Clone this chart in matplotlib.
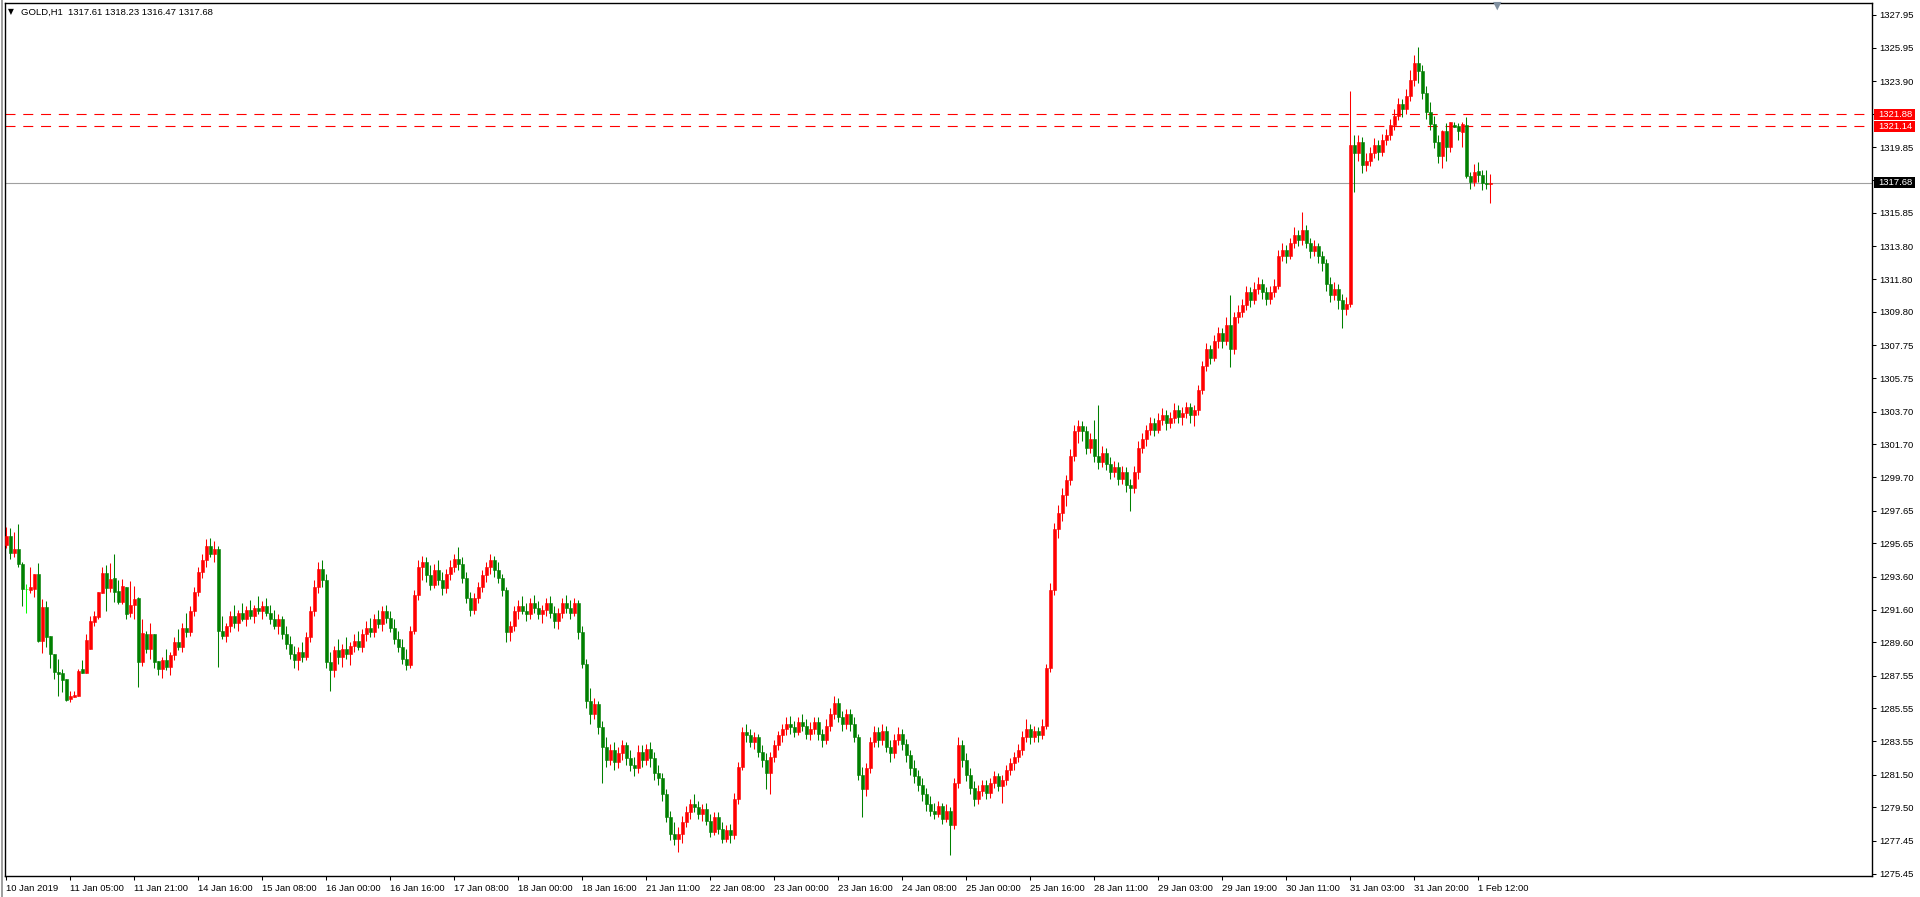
import matplotlib
matplotlib.use("Agg")
import matplotlib.pyplot as plt
from matplotlib.patches import Rectangle
from matplotlib.transforms import IdentityTransform

# === DATOS: velas H1 de GOLD, 10 por linea ===
opens = [
    1295.55, 1296.10, 1295.04, 1295.30, 1294.38, 1292.86, 1292.79, 1292.86, 1293.77, 1289.68,
    1291.78, 1289.98, 1288.90, 1287.80, 1287.70, 1287.35, 1286.13, 1286.27, 1286.33, 1287.97,
    1287.74, 1289.17, 1290.86, 1291.17, 1292.63, 1293.85, 1292.94, 1293.51, 1292.73, 1292.08,
    1293.00, 1291.37, 1291.88, 1292.28, 1288.41, 1290.11, 1289.19, 1290.11, 1288.45,
    1287.95, 1288.5, 1288.1, 1288.8, 1289.6, 1289.3, 1290.5, 1290.2, 1291.5, 1292.7,
    1293.9, 1294.6, 1295.5, 1295.0, 1295.3, 1290.3, 1290.0, 1290.6, 1291.2, 1290.8,
    1291.4, 1291.0, 1291.6, 1291.2, 1291.7, 1291.5, 1291.8, 1291.4, 1291.0, 1290.6,
    1291.0, 1290.1, 1289.5, 1288.9, 1288.5, 1289.0, 1288.7, 1289.9, 1291.5, 1293.0,
    1294.1, 1293.4, 1288.4, 1287.9, 1289.1, 1288.7, 1289.2, 1288.9, 1289.4, 1289.7,
    1289.3, 1290.1, 1290.5, 1290.2, 1291.0, 1290.7, 1291.5, 1291.1, 1290.5, 1289.8,
    1289.3, 1288.6, 1288.2, 1290.3, 1292.5, 1294.2, 1294.5, 1293.7, 1293.1, 1294.0,
    1293.4, 1292.9, 1293.8, 1294.2, 1294.7, 1294.4, 1293.5, 1292.3, 1291.6, 1292.3,
    1293.0, 1293.7, 1294.2, 1294.6, 1294.0, 1293.5, 1292.8, 1290.2, 1290.6, 1291.5,
    1291.8, 1291.5, 1291.3, 1292.0, 1291.7, 1291.3, 1291.6, 1292.0, 1291.4, 1290.9,
    1291.4, 1292.0, 1291.7, 1291.4, 1292.0, 1290.2, 1288.3, 1286.0, 1285.2, 1285.8,
    1284.4, 1283.2, 1282.4, 1283.0, 1282.3, 1282.8, 1283.3, 1282.5, 1282.1, 1281.9,
    1282.9, 1282.4, 1283.1, 1282.5, 1281.6, 1281.3, 1280.3, 1278.9, 1277.9, 1277.6,
    1277.9, 1278.6, 1279.2, 1279.7, 1279.5, 1279.1, 1279.4, 1278.7, 1278.0, 1278.9,
    1278.2, 1277.6, 1278.1, 1277.8, 1280.0, 1282.0, 1284.1, 1283.9, 1283.5, 1283.8,
    1282.9, 1282.4, 1281.6, 1282.6, 1283.3, 1283.9, 1284.3, 1284.6, 1284.4, 1284.1,
    1284.7, 1284.5, 1284.0, 1284.3, 1284.7, 1284.0, 1283.6, 1284.5, 1285.2, 1285.9,
    1285.0, 1284.6, 1285.2, 1284.6, 1283.8, 1281.5, 1280.6, 1281.9, 1283.5, 1284.1,
    1283.6, 1284.2, 1283.2, 1282.8, 1283.6, 1284.0, 1283.4, 1282.7, 1281.9, 1281.4,
    1280.9, 1280.3, 1279.7, 1279.3, 1279.1, 1279.6, 1278.8, 1279.3, 1278.4, 1281.0,
    1283.3, 1282.4, 1281.5, 1280.7, 1280.0, 1280.5, 1280.9, 1280.4, 1281.0, 1281.4,
    1280.8, 1281.2, 1281.8, 1282.2, 1282.6, 1283.0, 1283.8, 1284.3, 1283.8, 1284.2,
    1283.9, 1284.5, 1288.0, 1292.8, 1296.5, 1297.5, 1298.6, 1299.5, 1301.0, 1302.5,
    1302.8, 1302.5, 1301.5, 1302.0, 1301.0, 1300.6, 1301.2, 1300.5, 1300.0, 1300.3,
    1299.6, 1300.0, 1299.2, 1299.0, 1300.0, 1301.5, 1302.0, 1302.6, 1303.0, 1302.6,
    1303.2, 1303.5, 1303.0, 1303.3, 1303.8, 1303.4, 1303.6, 1304.0, 1303.5, 1303.8,
    1305.0, 1306.5, 1307.5, 1307.0, 1308.0, 1308.5, 1308.0, 1309.0, 1307.5, 1309.5,
    1309.8, 1310.2, 1311.0, 1310.5, 1311.2, 1311.5, 1311.0, 1310.6, 1311.0, 1311.4,
    1313.2, 1313.6, 1313.2, 1314.0, 1314.5, 1314.2, 1314.8, 1314.0, 1313.5, 1313.8,
    1313.2, 1312.8, 1311.5, 1310.8, 1311.2, 1310.5, 1310.0, 1310.3, 1320.0, 1319.5,
    1320.2, 1318.8, 1319.0, 1319.5, 1320.0, 1319.6, 1320.3, 1320.6, 1321.2, 1321.8,
    1322.5, 1322.2, 1323.0, 1324.0, 1325.0, 1324.5, 1323.2, 1322.0, 1321.3, 1320.2,
    1319.33, 1320.86, 1319.9, 1321.22, 1321.16, 1320.8, 1321.22, 1318.12, 1317.72, 1318.41,
    1318.17, 1317.7, 1317.61]
highs = [
    1296.67, 1296.57, 1296.36, 1296.83, 1294.53, 1293.16, 1294.18, 1293.77, 1294.47, 1292.24,
    1292.12, 1289.98, 1288.90, 1288.58, 1287.94, 1287.35, 1286.64, 1286.64, 1287.97, 1288.52,
    1290.11, 1291.21, 1291.51, 1292.69, 1294.18, 1294.32, 1294.47, 1295.00, 1293.41, 1293.45,
    1293.00, 1293.37, 1293.04, 1292.35, 1291.00, 1290.29, 1290.76, 1290.11, 1288.45,
    1288.7, 1289.2, 1289.0, 1289.9, 1290.4, 1290.8, 1291.4, 1291.8, 1293.0, 1294.2,
    1295.0, 1295.9, 1296.0, 1295.8, 1295.5, 1291.2, 1290.8, 1291.5, 1291.9, 1291.6,
    1292.0, 1291.8, 1292.2, 1291.9, 1292.4, 1292.1, 1292.3, 1291.9, 1291.6, 1291.3,
    1291.2, 1290.6, 1290.0, 1289.4, 1289.3, 1289.6, 1290.2, 1291.8, 1293.4, 1294.5,
    1294.6, 1293.8, 1289.0, 1289.4, 1289.8, 1289.5, 1289.9, 1289.6, 1290.1, 1290.3,
    1290.4, 1290.9, 1291.1, 1291.3, 1291.6, 1291.8, 1291.9, 1291.5, 1291.0, 1290.3,
    1289.8, 1289.2, 1290.6, 1292.8, 1294.6, 1294.9, 1294.8, 1294.3, 1294.4, 1294.6,
    1293.9, 1294.1, 1294.6, 1295.0, 1295.4, 1294.8, 1293.9, 1292.7, 1292.6, 1293.3,
    1294.0, 1294.5, 1295.0, 1294.9, 1294.5, 1293.8, 1293.0, 1290.9, 1291.8, 1292.2,
    1292.4, 1292.0, 1292.3, 1292.5, 1292.1, 1291.9, 1292.3, 1292.4, 1291.8, 1291.7,
    1292.3, 1292.5, 1292.2, 1292.3, 1292.2, 1290.6, 1288.6, 1286.8, 1286.2, 1286.0,
    1284.8, 1283.8, 1283.4, 1283.5, 1283.2, 1283.6, 1283.5, 1283.0, 1282.6, 1283.3,
    1283.3, 1283.4, 1283.5, 1282.9, 1282.1, 1281.6, 1280.6, 1279.3, 1278.6, 1278.3,
    1279.0, 1279.6, 1280.0, 1280.3, 1279.9, 1279.7, 1279.8, 1279.1, 1279.2, 1279.2,
    1278.6, 1278.4, 1278.5, 1280.4, 1282.3, 1284.4, 1284.6, 1284.3, 1284.1, 1284.0,
    1283.3, 1282.8, 1282.9, 1283.6, 1284.2, 1284.6, 1285.0, 1285.1, 1284.8, 1285.0,
    1285.2, 1284.9, 1284.7, 1285.0, 1285.0, 1284.3, 1284.9, 1285.6, 1286.3, 1286.2,
    1285.4, 1285.5, 1285.5, 1285.0, 1284.0, 1282.0, 1282.2, 1283.8, 1284.5, 1284.4,
    1284.6, 1284.5, 1283.6, 1284.0, 1284.4, 1284.3, 1283.7, 1283.0, 1282.4, 1281.8,
    1281.3, 1280.7, 1280.2, 1279.8, 1279.9, 1279.8, 1279.7, 1279.5, 1281.3, 1283.8,
    1283.6, 1282.8, 1281.9, 1281.1, 1280.9, 1281.2, 1281.2, 1281.3, 1281.7, 1281.6,
    1281.5, 1282.1, 1282.5, 1282.9, 1283.4, 1284.2, 1284.9, 1284.6, 1284.5, 1284.4,
    1284.9, 1288.3, 1293.2, 1296.9, 1298.0, 1299.0, 1299.8, 1301.4, 1302.9, 1303.2,
    1303.1, 1302.8, 1302.4, 1303.2, 1304.1, 1301.6, 1301.5, 1300.9, 1300.7, 1300.6,
    1300.4, 1300.3, 1299.6, 1300.4, 1301.9, 1302.4, 1302.9, 1303.4, 1303.3, 1303.6,
    1303.9, 1303.8, 1303.7, 1304.2, 1304.1, 1304.0, 1304.3, 1304.2, 1304.1, 1305.3,
    1306.8, 1307.9, 1307.8, 1308.4, 1308.9, 1308.8, 1309.5, 1310.8, 1309.8, 1310.2,
    1310.6, 1311.4, 1311.3, 1311.6, 1311.9, 1311.8, 1311.3, 1311.4, 1311.8, 1313.6,
    1314.0, 1313.9, 1314.3, 1315.0, 1314.8, 1315.9, 1315.1, 1314.3, 1314.2, 1314.0,
    1313.5, 1313.0, 1311.9, 1311.6, 1311.5, 1310.9, 1310.7, 1323.3, 1320.6, 1320.6,
    1320.5, 1319.5, 1319.9, 1320.4, 1320.3, 1320.7, 1321.0, 1321.6, 1322.2, 1322.9,
    1322.8, 1323.4, 1324.6, 1325.5, 1326.0, 1324.9, 1323.6, 1322.6, 1321.8, 1320.6,
    1320.9, 1321.37, 1321.39, 1321.39, 1321.35, 1321.4, 1321.73, 1318.33, 1318.84, 1318.96,
    1318.45, 1318.5, 1318.23]
lows = [
    1295.34, 1294.67, 1294.83, 1294.22, 1291.82, 1291.41, 1292.63, 1292.35, 1289.60, 1288.96,
    1289.33, 1288.00, 1287.33, 1286.33, 1286.54, 1286.01, 1285.97, 1286.27, 1286.33, 1287.74,
    1287.74, 1289.17, 1290.61, 1291.00, 1292.63, 1291.53, 1292.69, 1292.04, 1291.94, 1291.94,
    1291.02, 1291.17, 1291.00, 1286.84, 1288.17, 1288.92, 1288.58, 1288.05, 1287.60,
    1287.4, 1287.9, 1287.6, 1288.5, 1289.1, 1289.0, 1289.9, 1290.0, 1291.2, 1292.4,
    1293.5, 1294.2, 1294.8, 1294.5, 1288.1, 1289.8, 1289.6, 1290.2, 1290.5, 1290.3,
    1290.9, 1290.6, 1291.0, 1290.8, 1291.3, 1291.0, 1291.2, 1290.7, 1290.4, 1290.1,
    1289.8, 1289.2, 1288.6, 1288.0, 1287.9, 1288.4, 1288.5, 1289.6, 1291.2, 1292.6,
    1293.0, 1288.0, 1286.6, 1287.5, 1288.3, 1288.1, 1288.6, 1288.2, 1289.0, 1289.1,
    1289.0, 1289.7, 1289.9, 1289.9, 1290.5, 1290.3, 1290.8, 1290.2, 1289.5, 1289.0,
    1288.3, 1287.9, 1288.0, 1290.1, 1292.2, 1293.4, 1293.3, 1292.8, 1292.9, 1293.1,
    1292.5, 1292.6, 1293.4, 1293.9, 1294.0, 1293.2, 1292.0, 1291.2, 1291.3, 1292.0,
    1292.7, 1293.3, 1293.8, 1293.6, 1293.2, 1292.4, 1289.6, 1289.7, 1290.3, 1291.0,
    1291.3, 1290.9, 1291.0, 1291.4, 1291.0, 1290.8, 1291.2, 1291.1, 1290.5, 1290.4,
    1291.1, 1291.4, 1291.0, 1291.2, 1289.8, 1288.0, 1285.6, 1284.6, 1284.9, 1284.0,
    1281.0, 1282.0, 1282.1, 1281.8, 1281.9, 1282.4, 1282.1, 1281.7, 1281.4, 1281.6,
    1282.0, 1282.1, 1282.0, 1281.2, 1280.9, 1279.9, 1278.6, 1277.5, 1277.2, 1276.8,
    1277.3, 1278.3, 1278.8, 1279.2, 1278.8, 1278.7, 1278.4, 1277.7, 1277.8, 1277.9,
    1277.3, 1277.4, 1277.3, 1277.6, 1279.7, 1281.8, 1283.5, 1283.2, 1283.1, 1282.6,
    1282.0, 1280.6, 1280.3, 1282.3, 1283.0, 1283.5, 1283.9, 1284.0, 1283.8, 1283.9,
    1284.2, 1283.7, 1283.6, 1284.0, 1283.6, 1283.2, 1283.4, 1284.2, 1284.9, 1284.7,
    1284.2, 1284.3, 1284.2, 1283.5, 1281.2, 1278.9, 1280.2, 1281.6, 1283.2, 1283.2,
    1283.3, 1282.9, 1282.3, 1282.5, 1283.3, 1283.0, 1282.3, 1281.5, 1281.0, 1280.5,
    1279.9, 1279.3, 1279.0, 1278.8, 1278.9, 1278.5, 1278.6, 1276.6, 1278.2, 1280.7,
    1282.0, 1281.1, 1280.3, 1279.6, 1279.7, 1280.2, 1280.0, 1280.1, 1280.7, 1280.5,
    1279.8, 1280.9, 1281.5, 1281.8, 1282.3, 1282.7, 1283.5, 1283.4, 1283.5, 1283.5,
    1283.7, 1284.3, 1287.8, 1292.5, 1296.0, 1297.0, 1297.9, 1299.2, 1300.7, 1301.8,
    1301.9, 1301.1, 1301.2, 1300.6, 1300.2, 1300.3, 1300.1, 1299.6, 1299.7, 1299.2,
    1299.3, 1298.8, 1297.6, 1298.7, 1299.6, 1301.2, 1301.6, 1302.3, 1302.2, 1302.4,
    1302.9, 1302.6, 1302.7, 1303.0, 1303.0, 1302.9, 1303.3, 1303.0, 1302.8, 1303.5,
    1304.8, 1306.2, 1306.6, 1306.8, 1307.6, 1307.6, 1307.8, 1306.4, 1307.2, 1309.1,
    1309.5, 1309.9, 1310.1, 1310.3, 1310.9, 1310.6, 1310.2, 1310.3, 1310.7, 1311.2,
    1312.9, 1312.8, 1313.0, 1313.7, 1313.8, 1313.9, 1313.7, 1313.1, 1313.2, 1312.8,
    1312.3, 1311.1, 1310.4, 1310.5, 1310.0, 1308.8, 1309.6, 1310.1, 1317.1, 1319.0,
    1318.3, 1318.4, 1318.7, 1319.2, 1319.1, 1319.3, 1320.0, 1320.3, 1320.9, 1321.5,
    1321.7, 1321.9, 1322.7, 1323.6, 1323.8, 1322.8, 1321.6, 1320.9, 1319.8, 1318.9,
    1318.6, 1319.0, 1319.6, 1321.12, 1320.3, 1319.9, 1317.96, 1317.3, 1317.51, 1317.72,
    1317.25, 1317.3, 1316.47]
closes = [
    1296.10, 1295.04, 1295.30, 1294.36, 1292.84, 1292.86, 1293.00, 1293.77, 1289.68, 1291.78,
    1289.94, 1288.86, 1287.80, 1287.64, 1287.29, 1286.07, 1286.31, 1286.38, 1287.84, 1287.74,
    1289.74, 1290.90, 1291.21, 1292.69, 1293.85, 1292.90, 1293.47, 1292.69, 1292.08, 1293.04,
    1291.33, 1291.88, 1292.24, 1288.41, 1290.15, 1289.19, 1290.11, 1288.41, 1287.95,
    1288.5, 1288.1, 1288.8, 1289.6, 1289.3, 1290.5, 1290.2, 1291.5, 1292.7, 1293.9,
    1294.6, 1295.5, 1295.0, 1295.3, 1290.3, 1290.0, 1290.6, 1291.2, 1290.8, 1291.4,
    1291.0, 1291.6, 1291.2, 1291.7, 1291.5, 1291.8, 1291.4, 1291.0, 1290.6, 1291.0,
    1290.1, 1289.5, 1288.9, 1288.5, 1289.0, 1288.7, 1289.9, 1291.5, 1293.0, 1294.1,
    1293.4, 1288.4, 1287.9, 1289.1, 1288.7, 1289.2, 1288.9, 1289.4, 1289.7, 1289.3,
    1290.1, 1290.5, 1290.2, 1291.0, 1290.7, 1291.5, 1291.1, 1290.5, 1289.8, 1289.3,
    1288.6, 1288.2, 1290.3, 1292.5, 1294.2, 1294.5, 1293.7, 1293.1, 1294.0, 1293.4,
    1292.9, 1293.8, 1294.2, 1294.7, 1294.4, 1293.5, 1292.3, 1291.6, 1292.3, 1293.0,
    1293.7, 1294.2, 1294.6, 1294.0, 1293.5, 1292.8, 1290.2, 1290.6, 1291.5, 1291.8,
    1291.5, 1291.3, 1292.0, 1291.7, 1291.3, 1291.6, 1292.0, 1291.4, 1290.9, 1291.4,
    1292.0, 1291.7, 1291.4, 1292.0, 1290.2, 1288.3, 1286.0, 1285.2, 1285.8, 1284.4,
    1283.2, 1282.4, 1283.0, 1282.3, 1282.8, 1283.3, 1282.5, 1282.1, 1281.9, 1282.9,
    1282.4, 1283.1, 1282.5, 1281.6, 1281.3, 1280.3, 1278.9, 1277.9, 1277.6, 1277.9,
    1278.6, 1279.2, 1279.7, 1279.5, 1279.1, 1279.4, 1278.7, 1278.0, 1278.9, 1278.2,
    1277.6, 1278.1, 1277.8, 1280.0, 1282.0, 1284.1, 1283.9, 1283.5, 1283.8, 1282.9,
    1282.4, 1281.6, 1282.6, 1283.3, 1283.9, 1284.3, 1284.6, 1284.4, 1284.1, 1284.7,
    1284.5, 1284.0, 1284.3, 1284.7, 1284.0, 1283.6, 1284.5, 1285.2, 1285.9, 1285.0,
    1284.6, 1285.2, 1284.6, 1283.8, 1281.5, 1280.6, 1281.9, 1283.5, 1284.1, 1283.6,
    1284.2, 1283.2, 1282.8, 1283.6, 1284.0, 1283.4, 1282.7, 1281.9, 1281.4, 1280.9,
    1280.3, 1279.7, 1279.3, 1279.1, 1279.6, 1278.8, 1279.3, 1278.4, 1281.0, 1283.3,
    1282.4, 1281.5, 1280.7, 1280.0, 1280.5, 1280.9, 1280.4, 1281.0, 1281.4, 1280.8,
    1281.2, 1281.8, 1282.2, 1282.6, 1283.0, 1283.8, 1284.3, 1283.8, 1284.2, 1283.9,
    1284.5, 1288.0, 1292.8, 1296.5, 1297.5, 1298.6, 1299.5, 1301.0, 1302.5, 1302.8,
    1302.5, 1301.5, 1302.0, 1301.0, 1300.6, 1301.2, 1300.5, 1300.0, 1300.3, 1299.6,
    1300.0, 1299.2, 1299.0, 1300.0, 1301.5, 1302.0, 1302.6, 1303.0, 1302.6, 1303.2,
    1303.5, 1303.0, 1303.3, 1303.8, 1303.4, 1303.6, 1304.0, 1303.5, 1303.8, 1305.0,
    1306.5, 1307.5, 1307.0, 1308.0, 1308.5, 1308.0, 1309.0, 1307.5, 1309.5, 1309.8,
    1310.2, 1311.0, 1310.5, 1311.2, 1311.5, 1311.0, 1310.6, 1311.0, 1311.4, 1313.2,
    1313.6, 1313.2, 1314.0, 1314.5, 1314.2, 1314.8, 1314.0, 1313.5, 1313.8, 1313.2,
    1312.8, 1311.5, 1310.8, 1311.2, 1310.5, 1310.0, 1310.3, 1320.0, 1319.5, 1320.2,
    1318.8, 1319.0, 1319.5, 1320.0, 1319.6, 1320.3, 1320.6, 1321.2, 1321.8, 1322.5,
    1322.2, 1323.0, 1324.0, 1325.0, 1324.5, 1323.2, 1322.0, 1321.3, 1320.2, 1319.33,
    1320.86, 1319.9, 1321.39, 1321.12, 1320.86, 1321.28, 1318.12, 1317.72, 1318.33, 1318.17,
    1317.66, 1317.6, 1317.68]

x_labels = ["10 Jan 2019", "11 Jan 05:00", "11 Jan 21:00", "14 Jan 16:00", "15 Jan 08:00",
            "16 Jan 00:00", "16 Jan 16:00", "17 Jan 08:00", "18 Jan 00:00", "18 Jan 16:00",
            "21 Jan 11:00", "22 Jan 08:00", "23 Jan 00:00", "23 Jan 16:00", "24 Jan 08:00",
            "25 Jan 00:00", "25 Jan 16:00", "28 Jan 11:00", "29 Jan 03:00", "29 Jan 19:00",
            "30 Jan 11:00", "31 Jan 03:00", "31 Jan 20:00", "1 Feb 12:00"]
y_ticks = [1275.45, 1277.45, 1279.50, 1281.50, 1283.55, 1285.55, 1287.55, 1289.60, 1291.60,
           1293.60, 1295.65, 1297.65, 1299.70, 1301.70, 1303.70, 1305.75, 1307.75, 1309.80,
           1311.80, 1313.80, 1315.85, 1317.85, 1319.85, 1321.90, 1323.90, 1325.95, 1327.95]
niveles = [1321.88, 1321.14]
bid = 1317.68

# === FIGURA ===
plt.rcParams['font.family'] = ['Liberation Sans', 'DejaVu Sans']
W, H = 1920, 897
fig = plt.figure(figsize=(W / 100, H / 100), dpi=100)
ax = fig.add_axes([4.5 / W, (H - 876) / H, (1872 - 4.5) / W, (876 - 3) / H])

sube, baja, doji = "#FF0000", "#008000", "#00FF00"
n = len(closes)
xs = list(range(n))
cols = [sube if c > o else (baja if c < o else doji) for o, c in zip(opens, closes)]

ax.vlines(xs, lows, highs, colors=cols, linewidth=0.75, zorder=3)
bottoms = [min(o, c) for o, c in zip(opens, closes)]
alturas = [abs(c - o) for o, c in zip(opens, closes)]
ax.bar(xs, alturas, bottom=bottoms, width=0.75, color=cols, edgecolor=cols,
       linewidth=0.4, zorder=4)

for p in niveles:
    ax.axhline(p, color="#FF0000", linewidth=0.8, dashes=(9, 7), zorder=2)
ax.axhline(bid, color="#A0A0A0", linewidth=0.8, zorder=2)

ax.set_xlim(-0.375, 466.5)
ax.set_ylim(1275.31, 1328.68)

ax.yaxis.tick_right()
ax.set_yticks(y_ticks)
ax.set_yticklabels([f"{v:.2f}" for v in y_ticks])
ax.set_xticks(range(0, 16 * len(x_labels), 16))
ax.set_xticklabels(x_labels)
for t in ax.get_xticklabels():
    t.set_ha("left")
ax.tick_params(axis="both", direction="out", length=3, width=0.75, labelsize=6.8,
               colors="black", pad=2)
ax.tick_params(axis="x", pad=3)
for s in ax.spines.values():
    s.set_linewidth(1.0)
    s.set_color("black")

# etiquetas de precio en el eje
for p, fondo in [(1321.88, "#FF0000"), (1321.14, "#FF0000"), (bid, "#000000")]:
    yp = ax.transData.transform((0, p))[1]
    fig.patches.append(Rectangle((1874, yp - 5.5), 41, 11, facecolor=fondo, edgecolor="none",
                                 transform=IdentityTransform(), zorder=5))
    fig.text(1878 / W, yp / H, f"{p:.2f}", color="white", fontsize=6.8, va="center",
             ha="left", zorder=6)

# titulo y marcas
fig.text(8 / W, (H - 12) / H, "\u25bc", fontsize=5.5, va="center", ha="left",
         family=["DejaVu Sans"])
fig.text(21 / W, (H - 12) / H, "GOLD,H1  1317.61 1318.23 1316.47 1317.68", fontsize=6.8,
         va="center", ha="left")
fig.text(1497 / W, (H - 6) / H, "\u25bc", fontsize=8, va="center", ha="center",
         color="#8090A0", family=["DejaVu Sans"])
fig.patches.append(Rectangle((0.5, 0), 2, H, facecolor="#A0A0A0", edgecolor="none",
                             transform=IdentityTransform()))

fig.savefig("out.png", dpi=100, facecolor="white")
